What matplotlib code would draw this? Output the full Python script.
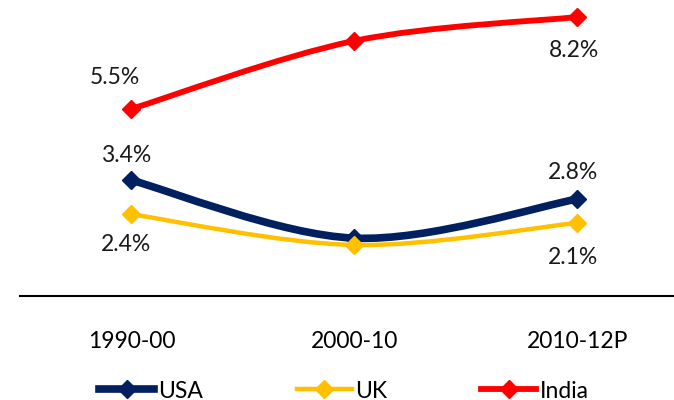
import matplotlib
matplotlib.use('Agg')
import matplotlib.pyplot as plt
from matplotlib.path import Path
from matplotlib.patches import PathPatch
import numpy as np

plt.rcParams['font.family'] = ['Lato', 'DejaVu Sans']

periodos = ['1990-00', '2000-10', '2010-12P']
usa = [3.4, 1.7, 2.85]
uk = [2.4, 1.5, 2.15]
india = [5.5, 7.5, 8.2]
etiquetas_usa = ['3.4%', None, '2.8%']
etiquetas_uk = ['2.4%', None, '2.1%']
etiquetas_india = ['5.5%', None, '8.2%']

colores = {'USA': '#002060', 'UK': '#FFC000', 'India': '#FF0000'}
anchos = {'USA': 5.5, 'UK': 3.2, 'India': 4.2}


def curva_suave(ax, x, y, color, lw, t=1/6):
    # curva tipo Excel (bezier con tangentes catmull-rom)
    x = np.asarray(x, float)
    y = np.asarray(y, float)
    verts = [(x[0], y[0])]
    codes = [Path.MOVETO]
    n = len(x)
    for i in range(n - 1):
        p0 = (x[max(i - 1, 0)], y[max(i - 1, 0)])
        p1 = (x[i], y[i])
        p2 = (x[i + 1], y[i + 1])
        p3 = (x[min(i + 2, n - 1)], y[min(i + 2, n - 1)])
        c1 = (p1[0] + (p2[0] - p0[0]) * t, p1[1] + (p2[1] - p0[1]) * t)
        c2 = (p2[0] - (p3[0] - p1[0]) * t, p2[1] - (p3[1] - p1[1]) * t)
        verts += [c1, c2, p2]
        codes += [Path.CURVE4] * 3
    ax.add_patch(PathPatch(Path(verts, codes), fill=False, edgecolor=color,
                           lw=lw, capstyle='round', joinstyle='round', zorder=2))


fig = plt.figure(figsize=(6.74, 4.0), dpi=100)
ax = fig.add_axes([20/674, 104/400, 654/674, 296/400])
xs = np.arange(len(periodos))

series = [('USA', usa, etiquetas_usa, (-5, 25), (-4, 27)),
          ('UK', uk, etiquetas_uk, (-5, -30), (-4, -35)),
          ('India', india, etiquetas_india, (-17, 31), (-3, -33))]

for nombre, vals, etqs, off_ini, off_fin in series:
    c = colores[nombre]
    curva_suave(ax, xs, vals, c, anchos[nombre])
    ax.plot(xs, vals, linestyle='none', marker='D', markersize=9.5, color=c, zorder=3)
    ax.plot([], [], color=c, lw=anchos[nombre], marker='D', markersize=9.5, label=nombre)
    for j, off in [(0, off_ini), (2, off_fin)]:
        ax.annotate(etqs[j], (xs[j], vals[j]), xytext=off, textcoords='offset pixels',
                    ha='center', va='center', fontsize=16.5, color='#1a1a1a')

ax.set_xlim(-0.5, 2.433)
ax.set_ylim(0, 8.7)
ax.set_xticks(xs)
ax.set_xticklabels(periodos, fontsize=16.5)
ax.tick_params(axis='x', length=0, pad=25)
ax.set_yticks([])
for s in ['top', 'right', 'left']:
    ax.spines[s].set_visible(False)
ax.spines['bottom'].set_linewidth(1.5)

fig.legend(loc='center', bbox_to_anchor=(344/674, 1 - 391/400), ncol=3, frameon=False,
           fontsize=16.5, handlelength=2.4, handletextpad=0.15, columnspacing=4.1,
           borderpad=0, borderaxespad=0)

fig.savefig('out.png', dpi=100)
